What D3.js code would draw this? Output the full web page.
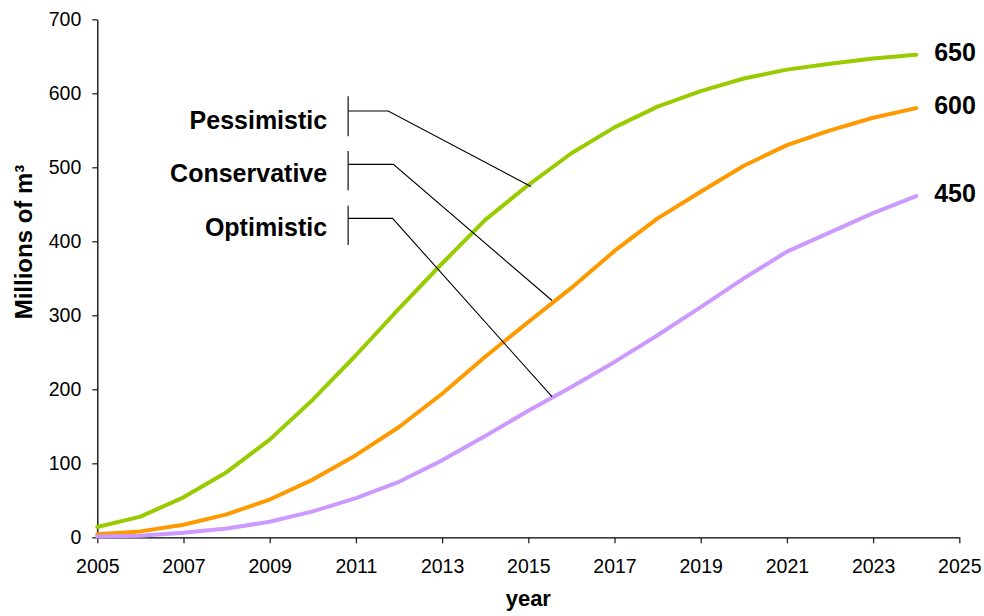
<!DOCTYPE html>
<html>
<head>
<meta charset="utf-8">
<script src="https://cdn.jsdelivr.net/npm/d3@7/dist/d3.min.js"></script>
<style>
  html, body { margin: 0; padding: 0; background: #fff; }
  svg { display: block; font-family: "Liberation Sans", Arial, Helvetica, sans-serif; }
</style>
</head>
<body>
<svg id="chart" width="984" height="616"></svg>
<script>
// Projected cumulative volume per scenario, millions of m³
const years = [2005, 2006, 2007, 2008, 2009, 2010, 2011, 2012, 2013, 2014,
               2015, 2016, 2017, 2018, 2019, 2020, 2021, 2022, 2023, 2024];
const pessimistic  = [14, 28, 54, 88, 132, 186, 246, 309, 370, 429, 476, 519, 554, 582, 603, 620, 632, 640, 647, 652];
const conservative = [4, 8, 17, 31, 51, 78, 111, 149, 194, 244, 291, 337, 387, 431, 467, 502, 530, 550, 567, 580];
const optimistic   = [1, 2, 6, 12, 21, 35, 53, 75, 104, 137, 171, 203, 237, 273, 311, 350, 386, 412, 438, 461];

const seriesNames = ["Pessimistic", "Conservative", "Optimistic"];
const endLabels = ["650", "600", "450"];
const xTicks = [2005, 2007, 2009, 2011, 2013, 2015, 2017, 2019, 2021, 2023, 2025];
const yTicks = [0, 100, 200, 300, 400, 500, 600, 700];

// Callout leaders, in data units: bracket at `year`, arm at `arm`, elbow year, and the point on the curve
const callouts = [
  { name: "Pessimistic",  year: 2010.82, hi: 596, lo: 542, arm: 576, elbow: 2011.75, toYear: 2015.06, toValue: 474 },
  { name: "Conservative", year: 2010.82, hi: 522, lo: 469, arm: 504, elbow: 2011.87, toYear: 2015.55, toValue: 320 },
  { name: "Optimistic",   year: 2010.82, hi: 448, lo: 395, arm: 431, elbow: 2011.85, toYear: 2015.55, toValue: 190 }
];

const colors = { Pessimistic: "#99cc00", Conservative: "#ff9900", Optimistic: "#cc99ff" };

const svg = d3.select("#chart");
const plotLeft = 97.3, plotRight = 959.3, plotTop = 19.3, plotBottom = 537.3;

const x = d3.scaleLinear().domain([2005, 2025]).range([plotLeft, plotRight]);
const y = d3.scaleLinear().domain([0, 700]).range([plotBottom, plotTop]);

// Axes
const xAxis = svg.append("g")
  .attr("transform", `translate(0,${plotBottom})`)
  .call(d3.axisBottom(x).tickValues(xTicks).tickFormat(d3.format("d")).tickSize(6).tickSizeOuter(0).tickPadding(16));
const yAxis = svg.append("g")
  .attr("transform", `translate(${plotLeft},0)`)
  .call(d3.axisLeft(y).tickValues(yTicks).tickSize(5).tickSizeOuter(0).tickPadding(11));

[xAxis, yAxis].forEach(g => {
  g.select(".domain").attr("stroke", "#000").attr("stroke-width", 1.3);
  g.selectAll(".tick line").attr("stroke", "#222").attr("stroke-width", 1.3);
  g.selectAll(".tick text").attr("fill", "#000").style("font-size", "19.5px")
    .style("font-family", "'Liberation Sans', Arial, Helvetica, sans-serif");
});
xAxis.selectAll(".tick text").attr("dy", "0.71em");

// Axis titles
svg.append("text")
  .attr("x", (plotLeft + plotRight) / 2)
  .attr("y", 606)
  .attr("text-anchor", "middle")
  .style("font-size", "22px").style("font-weight", "bold")
  .text("year");

svg.append("text")
  .attr("transform", "translate(32,242) rotate(-90)")
  .attr("text-anchor", "middle")
  .style("font-size", "24px").style("font-weight", "bold")
  .text("Millions of m³");

// Scenario curves
const seriesData = [pessimistic, conservative, optimistic];
const line = d3.line().x((d, i) => x(years[i])).y(d => y(d));

seriesData.forEach((vals, k) => {
  svg.append("path")
    .datum(vals)
    .attr("fill", "none")
    .attr("stroke", colors[seriesNames[k]])
    .attr("stroke-width", 4)
    .attr("stroke-linejoin", "round")
    .attr("stroke-linecap", "round")
    .attr("d", line);

  const last = vals.length - 1;
  svg.append("text")
    .attr("x", x(years[last]) + 18)
    .attr("y", y(vals[last]) + 6)
    .style("font-size", "25px").style("font-weight", "bold")
    .text(endLabels[k]);
});

// Callout brackets and leaders
callouts.forEach(c => {
  const g = svg.append("g");
  g.append("line")
    .attr("x1", x(c.year)).attr("x2", x(c.year))
    .attr("y1", y(c.hi)).attr("y2", y(c.lo))
    .attr("stroke", "#222").attr("stroke-width", 1.3);
  g.append("polyline")
    .attr("points", [[x(c.year), y(c.arm)], [x(c.elbow), y(c.arm)], [x(c.toYear), y(c.toValue)]].map(p => p.join(",")).join(" "))
    .attr("fill", "none").attr("stroke", "#000").attr("stroke-width", 1.1);
  g.append("text")
    .attr("x", x(c.year) - 21)
    .attr("y", y(c.arm) + 18)
    .attr("text-anchor", "end")
    .style("font-size", "25px").style("font-weight", "bold")
    .text(c.name);
});
</script>
</body>
</html>
